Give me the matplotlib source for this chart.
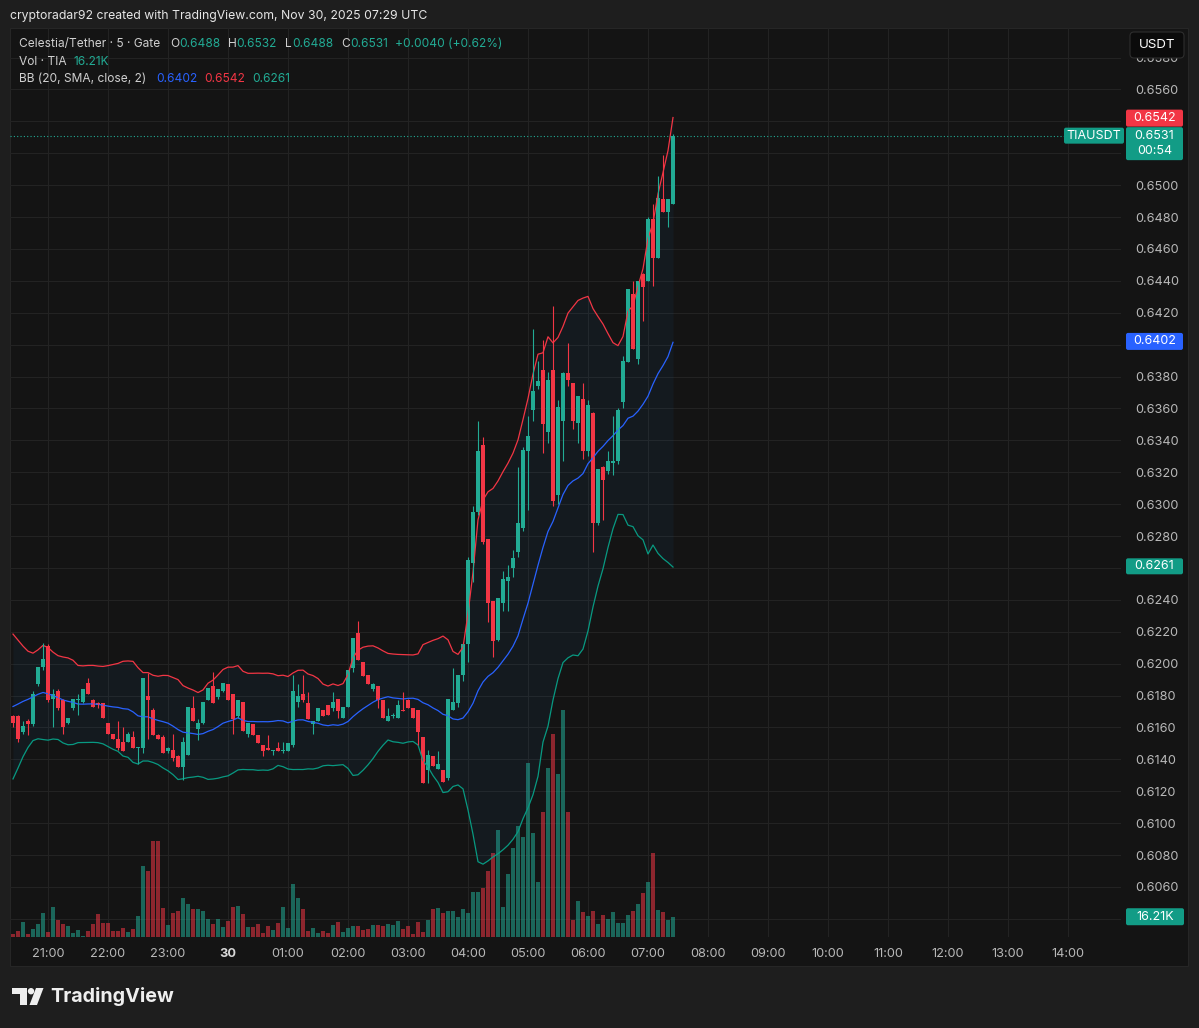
import numpy as np
import pandas as pd
import matplotlib
matplotlib.use("Agg")
import matplotlib.pyplot as plt
from matplotlib.patches import Rectangle, FancyBboxPatch, Polygon, Circle

W, H = 1199, 1028
plt.rcParams['font.family'] = ['Inter', 'DejaVu Sans']

# ---------------- data (5-minute candles, TIA/USDT, from 20:25 to 07:25) ----------------
opens = [0.6167, 0.6167, 0.6157, 0.6164, 0.6162, 0.6187, 0.6198, 0.6211, 0.6178, 0.6183,
         0.6177, 0.6163, 0.6172, 0.6177, 0.6176, 0.6188, 0.6177, 0.6175, 0.6175, 0.6163,
         0.6156, 0.6153, 0.6151, 0.6151, 0.6154, 0.6147, 0.6147, 0.6180, 0.6171, 0.6155,
         0.6154, 0.6145, 0.6146, 0.6142, 0.6135, 0.6143, 0.6172, 0.6159, 0.6163, 0.6177,
         0.6186, 0.6179, 0.6183, 0.6187, 0.6181, 0.6167, 0.6176, 0.6156, 0.6162, 0.6155,
         0.6149, 0.6147, 0.6145, 0.6147, 0.6145, 0.6145, 0.6149, 0.6176, 0.6181, 0.6175,
         0.6162, 0.6164, 0.6171, 0.6174, 0.6172, 0.6178, 0.6166, 0.6173, 0.6197, 0.6219,
         0.6201, 0.6193, 0.6184, 0.6186, 0.6177, 0.6164, 0.6167, 0.6166, 0.6171, 0.6177,
         0.6172, 0.6171, 0.6154, 0.6133, 0.6142, 0.6134, 0.6133, 0.6128, 0.6171, 0.6175,
         0.6193, 0.6212, 0.6263, 0.6295, 0.6337, 0.6278, 0.6239, 0.6215, 0.6238, 0.6252,
         0.6260, 0.6270, 0.6285, 0.6333, 0.6359, 0.6374, 0.6384, 0.6345, 0.6384, 0.6306,
         0.6352, 0.6382, 0.6376, 0.6351, 0.6366, 0.6333, 0.6357, 0.6288, 0.6323, 0.6321,
         0.6326, 0.6327, 0.6364, 0.6389, 0.6432, 0.6391, 0.6444, 0.6440, 0.6479, 0.6454,
         0.6491, 0.6483, 0.6488]
highs = [0.6168, 0.6168, 0.6164, 0.6165, 0.6183, 0.6188, 0.6213, 0.6212, 0.6184, 0.6184,
         0.6178, 0.6166, 0.6178, 0.6181, 0.6184, 0.6191, 0.6178, 0.6176, 0.6175, 0.6163,
         0.6156, 0.6164, 0.6160, 0.6157, 0.6158, 0.6148, 0.6191, 0.6194, 0.6172, 0.6156,
         0.6155, 0.6148, 0.6156, 0.6143, 0.6154, 0.6173, 0.6180, 0.6165, 0.6176, 0.6185,
         0.6195, 0.6184, 0.6188, 0.6187, 0.6181, 0.6177, 0.6176, 0.6163, 0.6162, 0.6155,
         0.6149, 0.6155, 0.6146, 0.6151, 0.6151, 0.6150, 0.6193, 0.6187, 0.6193, 0.6182,
         0.6164, 0.6172, 0.6171, 0.6174, 0.6182, 0.6178, 0.6173, 0.6196, 0.6216, 0.6227,
         0.6201, 0.6193, 0.6188, 0.6186, 0.6177, 0.6172, 0.6169, 0.6177, 0.6182, 0.6178,
         0.6172, 0.6171, 0.6154, 0.6146, 0.6142, 0.6145, 0.6133, 0.6178, 0.6197, 0.6193,
         0.6212, 0.6267, 0.6299, 0.6352, 0.6342, 0.6278, 0.6239, 0.6241, 0.6258, 0.6262,
         0.6271, 0.6323, 0.6336, 0.6355, 0.6410, 0.6390, 0.6403, 0.6383, 0.6424, 0.6365,
         0.6383, 0.6401, 0.6376, 0.6368, 0.6376, 0.6365, 0.6358, 0.6322, 0.6324, 0.6333,
         0.6355, 0.6360, 0.6393, 0.6435, 0.6440, 0.6440, 0.6445, 0.6480, 0.6488, 0.6506,
         0.6519, 0.6491, 0.6532]
lows = [0.6160, 0.6151, 0.6156, 0.6155, 0.6161, 0.6186, 0.6196, 0.6176, 0.6160, 0.6171,
        0.6156, 0.6162, 0.6171, 0.6168, 0.6175, 0.6181, 0.6173, 0.6172, 0.6166, 0.6156,
        0.6153, 0.6146, 0.6145, 0.6151, 0.6147, 0.6137, 0.6144, 0.6153, 0.6155, 0.6153,
        0.6144, 0.6144, 0.6139, 0.6135, 0.6127, 0.6143, 0.6164, 0.6152, 0.6162, 0.6177,
        0.6175, 0.6178, 0.6182, 0.6177, 0.6156, 0.6166, 0.6158, 0.6154, 0.6155, 0.6150,
        0.6142, 0.6146, 0.6143, 0.6145, 0.6144, 0.6145, 0.6148, 0.6173, 0.6176, 0.6165,
        0.6156, 0.6164, 0.6167, 0.6168, 0.6170, 0.6166, 0.6166, 0.6173, 0.6195, 0.6202,
        0.6192, 0.6187, 0.6183, 0.6172, 0.6166, 0.6164, 0.6166, 0.6166, 0.6170, 0.6172,
        0.6166, 0.6149, 0.6125, 0.6125, 0.6136, 0.6134, 0.6126, 0.6127, 0.6171, 0.6173,
        0.6189, 0.6201, 0.6251, 0.6293, 0.6275, 0.6226, 0.6204, 0.6214, 0.6233, 0.6233,
        0.6254, 0.6267, 0.6283, 0.6296, 0.6352, 0.6372, 0.6332, 0.6338, 0.6299, 0.6300,
        0.6327, 0.6374, 0.6347, 0.6338, 0.6328, 0.6330, 0.6270, 0.6287, 0.6290, 0.6319,
        0.6318, 0.6325, 0.6360, 0.6389, 0.6397, 0.6388, 0.6415, 0.6440, 0.6437, 0.6454,
        0.6483, 0.6474, 0.6488]
closes = [0.6163, 0.6153, 0.6161, 0.6162, 0.6181, 0.6198, 0.6203, 0.6177, 0.6181, 0.6172,
          0.6160, 0.6166, 0.6178, 0.6178, 0.6184, 0.6181, 0.6173, 0.6174, 0.6166, 0.6156,
          0.6153, 0.6147, 0.6145, 0.6156, 0.6147, 0.6148, 0.6191, 0.6177, 0.6155, 0.6153,
          0.6144, 0.6147, 0.6141, 0.6135, 0.6151, 0.6173, 0.6164, 0.6163, 0.6176, 0.6185,
          0.6175, 0.6184, 0.6188, 0.6177, 0.6165, 0.6177, 0.6158, 0.6163, 0.6155, 0.6150,
          0.6145, 0.6146, 0.6146, 0.6145, 0.6146, 0.6150, 0.6183, 0.6180, 0.6177, 0.6165,
          0.6164, 0.6172, 0.6167, 0.6168, 0.6176, 0.6170, 0.6173, 0.6196, 0.6216, 0.6202,
          0.6192, 0.6187, 0.6187, 0.6177, 0.6166, 0.6167, 0.6168, 0.6174, 0.6170, 0.6172,
          0.6166, 0.6157, 0.6125, 0.6143, 0.6136, 0.6137, 0.6126, 0.6178, 0.6176, 0.6193,
          0.6212, 0.6265, 0.6295, 0.6333, 0.6276, 0.6238, 0.6214, 0.6241, 0.6253, 0.6254,
          0.6266, 0.6288, 0.6334, 0.6343, 0.6371, 0.6377, 0.6350, 0.6378, 0.6302, 0.6361,
          0.6382, 0.6378, 0.6352, 0.6368, 0.6333, 0.6362, 0.6288, 0.6322, 0.6315, 0.6327,
          0.6327, 0.6359, 0.6390, 0.6435, 0.6397, 0.6440, 0.6436, 0.6479, 0.6454, 0.6492,
          0.6483, 0.6491, 0.6531]
volumes_k = [2.4, 4.8, 11.8, 2.2, 6.2, 10.4, 19.4, 4.2, 24.0, 13.6,
             10.4, 8.8, 3.0, 5.6, 0.8, 4.8, 10.4, 18.2, 11.0, 11.4,
             5.0, 5.0, 7.0, 4.2, 6.4, 17.0, 56.8, 53.0, 76.8, 76.8,
             23.0, 9.6, 19.4, 20.8, 31.0, 26.2, 22.4, 22.4, 21.0, 14.4,
             10.4, 14.4, 8.2, 13.0, 24.2, 24.8, 18.4, 7.8, 7.8, 10.4,
             3.0, 8.8, 5.6, 11.4, 24.2, 7.4, 42.2, 31.4, 22.4, 5.0,
             7.4, 3.0, 5.0, 3.0, 9.6, 12.2, 4.2, 7.4, 8.8, 8.8,
             5.6, 6.4, 9.6, 9.6, 8.8, 10.4, 9.6, 12.8, 6.2, 9.0,
             2.2, 11.8, 4.2, 13.6, 22.4, 23.4, 19.4, 20.8, 20.8, 15.8,
             22.2, 19.0, 35.8, 35.8, 39.4, 52.8, 67.0, 85.6, 23.8, 50.4,
             71.0, 88.8, 80.2, 139.4, 83.0, 44.2, 100.2, 135.0, 162.2, 130.4,
             181.6, 99.8, 13.6, 28.8, 20.2, 16.8, 21.0, 10.4, 17.6, 14.4,
             20.2, 11.4, 11.4, 17.6, 20.8, 26.4, 35.0, 43.8, 67.0, 21.6,
             19.8, 13.6, 16.21]
# closes before the visible window (needed for the 20-period band at the left edge)
prior_closes = [0.6122, 0.6128, 0.6136, 0.6150, 0.6166, 0.6180, 0.6194, 0.6203, 0.6197, 0.6190,
                0.6183, 0.6191, 0.6199, 0.6186, 0.6178, 0.6172, 0.6180, 0.6176, 0.6168]
time_labels = ["21:00", "22:00", "23:00", "30", "01:00", "02:00", "03:00", "04:00", "05:00",
               "06:00", "07:00", "08:00", "09:00", "10:00", "11:00", "12:00", "13:00", "14:00"]
price_ticks = [0.6040, 0.6060, 0.6080, 0.6100, 0.6120, 0.6140, 0.6160, 0.6180, 0.6200, 0.6220,
               0.6240, 0.6260, 0.6280, 0.6300, 0.6320, 0.6340, 0.6360, 0.6380, 0.6400, 0.6420,
               0.6440, 0.6460, 0.6480, 0.6500, 0.6520, 0.6540, 0.6560, 0.6580]
bb_last = {"basis": 0.6402, "upper": 0.6542, "lower": 0.6261}
header_ohlc = ["0.6488", "0.6532", "0.6488", "0.6531"]
header_change = "+0.0040 (+0.62%)"
last_volume_label = "16.21K"
countdown = "00:54"

# ---------------- style ----------------
OUTER = '#1e1e1e'
PANEL = '#141414'
GRID = '#232323'
UP = '#22ab94'
DOWN = '#f23645'
LBL_UP = '#129c86'
BLUE = '#2962ff'
TXT = '#b8b8b8'
LEG = '#cfcfcf'

n = len(closes)
x = np.arange(n)
O = np.array(opens); Hh = np.array(highs); L = np.array(lows); C = np.array(closes)
up = C >= O

allc = pd.Series(prior_closes + closes)
basis = allc.rolling(20).mean().to_numpy()[-n:]
sd = allc.rolling(20).std(ddof=0).to_numpy()[-n:]
upper = basis + 2 * sd
lower = basis - 2 * sd

fig = plt.figure(figsize=(W / 100, H / 100), dpi=100, facecolor=OUTER)

bg = fig.add_axes([0, 0, 1, 1], zorder=0)
bg.set_xlim(0, W); bg.set_ylim(H, 0); bg.axis('off')
bg.add_patch(Rectangle((10, 28), 1178, 938, facecolor=PANEL, edgecolor='#262626', lw=0.8))

rect = [10 / W, 1 - 937 / H, 1111 / W, 909 / H]
XL = (-0.6, 221.6)
YL = (0.602859, 0.659850)
hour_idx = [7 + 12 * k for k in range(len(time_labels))]

axg = fig.add_axes(rect, zorder=0.5)
axv = fig.add_axes(rect, zorder=1)
ax = fig.add_axes(rect, zorder=2)
for a in (axg, axv, ax):
    a.set_facecolor('none')
    for s in a.spines.values():
        s.set_visible(False)
    a.set_xlim(*XL)
axg.set_ylim(*YL); ax.set_ylim(*YL)
axg.set_xticks([]); axg.set_yticks([])
for p in price_ticks:
    axg.axhline(p, color=GRID, lw=0.8)
for h in hour_idx:
    axg.axvline(h, color=GRID, lw=0.8)

# volume
axv.set_ylim(0, 727)
axv.bar(x, volumes_k, width=0.78, color=np.where(up, UP, DOWN), alpha=0.55, linewidth=0)
axv.set_xticks([]); axv.set_yticks([])

# Bollinger bands
ax.fill_between(x, lower, upper, color='#2196f3', alpha=0.05, linewidth=0)
ax.plot(x, upper, color=DOWN, lw=0.9)
ax.plot(x, basis, color=BLUE, lw=0.9)
ax.plot(x, lower, color='#089981', lw=0.9)

# candles
cols = np.where(up, UP, DOWN)
ax.vlines(x, L, Hh, colors=cols, lw=0.8)
minh = 1.0 / 15950
ax.bar(x, np.maximum(np.abs(C - O), minh), bottom=np.minimum(O, C), width=0.7,
       color=cols, linewidth=0)

# last price line
ax.axhline(C[-1], color=UP, lw=0.8, ls=(0, (1, 2)))

ax.set_xticks(hour_idx)
ax.set_xticklabels(time_labels)
ax.tick_params(axis='x', length=0, pad=8, colors=TXT, labelsize=9.2)
for t in ax.get_xticklabels():
    if t.get_text() == "30":
        t.set_fontweight('bold')
        t.set_color('#d8d8d8')
ax.yaxis.tick_right()
ax.set_yticks(price_ticks)
ax.tick_params(axis='y', length=0, pad=10, colors=TXT, labelsize=9.2)

fig.canvas.draw()
def p2y(p):
    return H - ax.transData.transform((0, p))[1]
def v2y(v):
    return H - axv.transData.transform((0, v))[1]

# price labels hidden behind the coloured value boxes
box_centres = [p2y(bb_last['upper']), p2y(C[-1]), p2y(C[-1]) + 16, p2y(bb_last['basis']),
               p2y(bb_last['lower']), v2y(volumes_k[-1])]
ylabels = []
for p in price_ticks:
    yy = p2y(p)
    covered = any(abs(yy - b) < 13 for b in box_centres)
    ylabels.append("" if covered else f"{p:.4f}")
ax.set_yticklabels(ylabels)

# overlay (pixel coordinates)
ov = fig.add_axes([0, 0, 1, 1], zorder=3)
ov.set_xlim(0, W); ov.set_ylim(H, 0); ov.axis('off'); ov.set_facecolor('none')

def label_box(x0, x1, yc, h, color, text, rnd=2):
    ov.add_patch(FancyBboxPatch((x0, yc - h / 2), x1 - x0, h,
                                boxstyle=f"round,pad=0,rounding_size={rnd}",
                                facecolor=color, edgecolor='none', zorder=5))
    ov.text((x0 + x1) / 2, yc, text, color='white', fontsize=9.0, ha='center',
            va='center', zorder=6)

# header texts
ov.text(10, 16, "cryptoradar92 created with TradingView.com, Nov 30, 2025 07:29 UTC",
        color='#e6e6e6', fontsize=8.8, va='center', ha='left')
fs = 8.6
ov.text(19, 44, "Celestia/Tether · 5 · Gate", color=LEG, fontsize=fs, va='center')
for lab, xl, val, xv in zip(["O", "H", "L", "C"], [170, 228, 285, 341],
                            header_ohlc, [179, 236, 292, 350]):
    ov.text(xl, 44, lab, color=LEG, fontsize=fs, va='center')
    ov.text(xv, 44, val, color=UP, fontsize=fs, va='center')
ov.text(395, 44, header_change, color=UP, fontsize=fs, va='center')
ov.text(19, 62, "Vol · TIA", color=LEG, fontsize=fs, va='center')
ov.text(74, 62, last_volume_label, color=UP, fontsize=fs, va='center')
ov.text(19, 79, "BB (20, SMA, close, 2)", color=LEG, fontsize=fs, va='center')
ov.text(156, 79, f"{bb_last['basis']:.4f}", color=BLUE, fontsize=fs, va='center')
ov.text(204, 79, f"{bb_last['upper']:.4f}", color=DOWN, fontsize=fs, va='center')
ov.text(252, 79, f"{bb_last['lower']:.4f}", color=UP, fontsize=fs, va='center')

# right-side labels
ov.add_patch(FancyBboxPatch((1130, 32), 54, 26, boxstyle="round,pad=0,rounding_size=4",
                            facecolor='#0b0b0b', edgecolor='#2e2e2e', lw=0.8, zorder=5))
ov.text(1157, 45, "USDT", color='white', fontsize=9.6, ha='center', va='center', zorder=6)

label_box(1126, 1183, p2y(bb_last['upper']), 17, DOWN, f"{bb_last['upper']:.4f}")
ylast = p2y(C[-1])
ov.add_patch(FancyBboxPatch((1126, ylast - 8.5), 57, 33, boxstyle="round,pad=0,rounding_size=2",
                            facecolor=LBL_UP, edgecolor='none', zorder=5))
ov.text(1154.5, ylast, f"{C[-1]:.4f}", color='white', fontsize=9.0, ha='center', va='center', zorder=6)
ov.text(1154.5, ylast + 15.5, countdown, color='white', fontsize=9.0, ha='center', va='center', zorder=6)
label_box(1064, 1124, ylast, 16, LBL_UP, "TIAUSDT")
label_box(1126, 1183, p2y(bb_last['basis']), 17, BLUE, f"{bb_last['basis']:.4f}")
label_box(1126, 1183, p2y(bb_last['lower']), 16, LBL_UP, f"{bb_last['lower']:.4f}")
label_box(1126, 1184, v2y(volumes_k[-1]), 17, LBL_UP, last_volume_label)

# TradingView logo
LOGO = '#eeeeee'
ov.add_patch(Rectangle((12, 988), 15, 6, facecolor=LOGO, edgecolor='none'))
ov.add_patch(Rectangle((19.5, 988), 7.5, 17, facecolor=LOGO, edgecolor='none'))
ov.add_patch(Circle((31, 991.2), 3.2, facecolor=LOGO, edgecolor='none'))
ov.add_patch(Polygon([(36, 988), (43.5, 988), (37, 1005), (29.5, 1005)], closed=True,
                     facecolor=LOGO, edgecolor='none'))
ov.text(50, 997, "TradingView", color=LOGO, fontsize=14.2, fontweight='bold',
        ha='left', va='center')

fig.savefig("out.png", dpi=100, facecolor=OUTER)
